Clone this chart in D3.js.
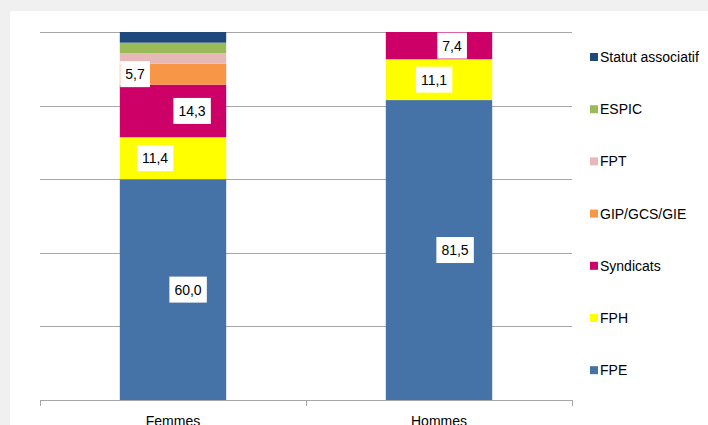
<!DOCTYPE html>
<meta charset="utf-8">
<style>
    body { margin: 0; background: #f0f0f0; }
    svg { display: block; font-family: "Liberation Sans", Arial, sans-serif; }
    .grid line { stroke: #a6a6a6; stroke-width: 1; }
    .lbl { font-size: 14px; fill: #000; }
</style>
<body>
<svg width="708" height="425"></svg>
<script src="https://d3js.org/d3.v7.min.js"></script>
<script>
    // data
    var categories = ["Femmes", "Hommes"];
    var series = ["FPE", "FPH", "Syndicats", "GIP/GCS/GIE", "FPT", "ESPIC", "Statut associatif"];
    var femmes = [60.0, 11.4, 14.3, 5.7, 2.8, 2.9, 2.9];
    var hommes = [81.5, 11.1, 7.4, 0, 0, 0, 0];
    var colors = ["#4572a7", "#ffff00", "#cc0066", "#f79646", "#e6b9b8", "#9bbb59", "#1f497d"];
    var yTicks = [0, 20, 40, 60, 80, 100];
    // which values get a label, and how far the label was nudged sideways
    var labelled = [[true, true, true, true, false, false, false], [true, true, true, false, false, false, false]];
    var labelDx = [[15, -18, 19, -38, 0, 0, 0], [16, -5, 13, 0, 0, 0, 0]];

    var svg = d3.select("svg");
    svg.append("rect").attr("x", 10).attr("y", 11).attr("width", 698).attr("height", 414).attr("fill", "#fff");

    var pLeft = 40, pRight = 572, pTop = 32, pBottom = 400;

    var x = d3.scaleBand().domain(categories).range([pLeft, pRight]).paddingInner(0.6).paddingOuter(0.3);
    var y = d3.scaleLinear().domain([0, 100]).range([pBottom, pTop]);

    var gridG = svg.append("g").attr("class", "grid");
    gridG.selectAll("line").data(yTicks).enter().append("line")
        .attr("x1", pLeft).attr("x2", pRight)
        .attr("y1", function(d) { return Math.round(y(d)) + 0.5; })
        .attr("y2", function(d) { return Math.round(y(d)) + 0.5; });

    var rows = [femmes, hommes];
    var stacked = rows.map(function(vals, i) {
        var acc = 0;
        return vals.map(function(v, j) {
            var seg = { cat: categories[i], ci: i, si: j, v: v, y0: acc, y1: acc + v };
            acc += v;
            return seg;
        });
    });

    var segs = d3.merge(stacked);
    svg.append("g").selectAll("rect").data(segs.filter(function(d) { return d.v > 0; })).enter().append("rect")
        .attr("x", function(d) { return x(d.cat); })
        .attr("width", x.bandwidth())
        .attr("y", function(d) { return y(d.y1); })
        .attr("height", function(d) { return y(d.y0) - y(d.y1); })
        .attr("fill", function(d) { return colors[d.si]; });

    // x axis
    var axisG = svg.append("g");
    axisG.append("line").attr("x1", pLeft).attr("x2", pRight).attr("y1", pBottom + 0.5).attr("y2", pBottom + 0.5)
        .attr("stroke", "#a6a6a6");
    var edges = [pLeft, (pLeft + pRight) / 2, pRight];
    axisG.selectAll(".tk").data(edges).enter().append("line")
        .attr("x1", function(d) { return Math.round(d) + 0.5; })
        .attr("x2", function(d) { return Math.round(d) + 0.5; })
        .attr("y1", pBottom).attr("y2", pBottom + 6).attr("stroke", "#a6a6a6");
    axisG.selectAll("text").data(categories).enter().append("text")
        .attr("class", "lbl")
        .attr("x", function(d) { return x(d) + x.bandwidth() / 2; })
        .attr("y", 426)
        .attr("text-anchor", "middle")
        .text(function(d) { return d; });

    // value labels
    var fmt = function(v) { return v.toFixed(1).replace(".", ","); };
    var lab = svg.append("g").selectAll("g")
        .data(segs.filter(function(d) { return labelled[d.ci][d.si]; }))
        .enter().append("g")
        .attr("transform", function(d) {
            var cx = x(d.cat) + x.bandwidth() / 2 + labelDx[d.ci][d.si];
            var cy = (y(d.y0) + y(d.y1)) / 2;
            return "translate(" + cx + "," + cy + ")";
        });
    lab.append("text").attr("class", "lbl")
        .attr("text-anchor", "middle").attr("dy", "0.36em")
        .text(function(d) { return fmt(d.v); });
    lab.each(function() {
        var g = d3.select(this);
        var bb = g.select("text").node().getBBox();
        g.insert("rect", "text")
            .attr("x", bb.x - 5).attr("y", -13)
            .attr("width", bb.width + 10).attr("height", 26)
            .attr("fill", "#fff");
    });

    // legend
    var legend = svg.append("g").attr("transform", "translate(590,0)");
    var order = series.slice().reverse();
    var item = legend.selectAll("g").data(order).enter().append("g")
        .attr("transform", function(d, i) { return "translate(0," + (57 + i * 52.2) + ")"; });
    item.append("rect").attr("x", 0).attr("y", -4).attr("width", 8).attr("height", 8)
        .attr("fill", function(d) { return colors[series.indexOf(d)]; });
    item.append("text").attr("class", "lbl").attr("x", 10).attr("dy", "0.36em")
        .text(function(d) { return d; });
</script>
</body>
